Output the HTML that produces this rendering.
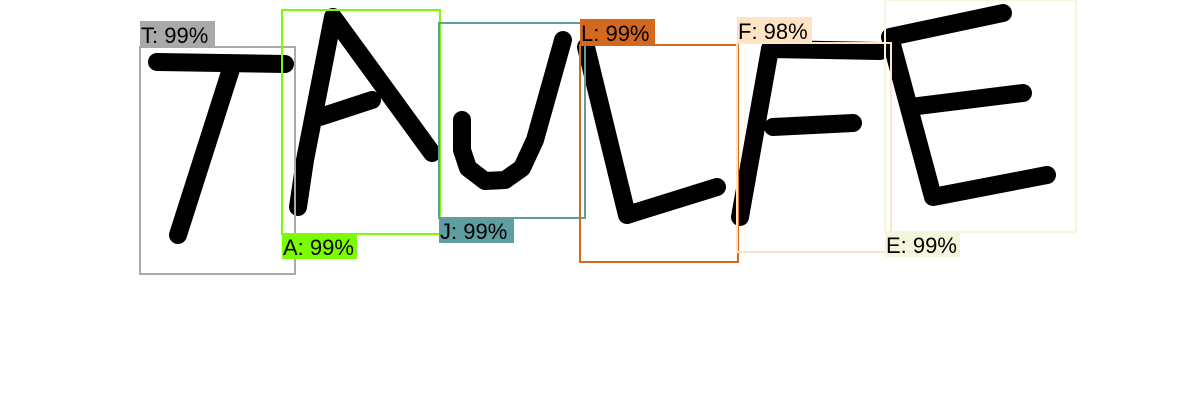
<!DOCTYPE html>
<html><head><meta charset="utf-8"><style>
html,body{margin:0;padding:0;background:#fff;}
svg{display:block;}
text{font-family:"Liberation Sans",sans-serif;font-size:22px;fill:#000;}
</style></head><body>
<svg id="chart" width="1200" height="420">
<g id="letters"></g><g id="boxes"></g>
</svg>
<script>
const labels = ["T","A","J","L","F","E"];
const scores = [99,99,99,99,98,99];
const boxX0 = [140,282,439,580,737,885];
const boxY0 = [47,10,23,45,43,0];
const boxX1 = [295,440,585,738,891,1076];
const boxY1 = [274,234,218,262,252,232];
const colors = ["#a9a9a9","#7cfc00","#5f9ea0","#d2691e","#ffe4c4","#f5f5dc"];
const labelBelow = [false,true,true,false,false,true];
const strokes = [
 [[[157,62],[285,64]],[[232,66],[178,235]]],
 [[[298,207],[305,160],[333,17],[432,153]],[[320,117],[372,100]]],
 [[[563,40],[535,140],[522,168],[505,180],[485,181],[468,168],[462,150],[462,120]]],
 [[[586,47],[627,215],[717,187]]],
 [[[770,49],[740,217]],[[770,49],[880,51]],[[773,127],[853,123]]],
 [[[1003,13],[890,37],[933,197],[1047,175]],[[910,107],[1023,93]]]
];
const NS="http://www.w3.org/2000/svg";
const lg=document.getElementById('letters'), bg=document.getElementById('boxes');
strokes.forEach((letter,i)=>{
  letter.forEach(s=>{
    const p=document.createElementNS(NS,'polyline');
    
    
    p.setAttribute('points',s.map(q=>q.join(',')).join(' '));
    p.setAttribute('fill','none');p.setAttribute('stroke','#000');
    p.setAttribute('stroke-width','18');p.setAttribute('stroke-linecap','round');p.setAttribute('stroke-linejoin','round');
    lg.appendChild(p);
  });
});
labels.forEach((l,i)=>{
  const r=document.createElementNS(NS,'rect');
  
  
  r.setAttribute('x',boxX0[i]);r.setAttribute('y',boxY0[i]);
  r.setAttribute('width',boxX1[i]-boxX0[i]);r.setAttribute('height',boxY1[i]-boxY0[i]);
  r.setAttribute('fill','none');r.setAttribute('stroke',colors[i]);r.setAttribute('stroke-width','2');
  bg.appendChild(r);
  const txt=l+': '+scores[i]+'%';
  const ly = labelBelow[i] ? boxY1[i]-1 : boxY0[i]-26;
  const lb=document.createElementNS(NS,'rect');
  
  
  lb.setAttribute('x',boxX0[i]);lb.setAttribute('y',ly);
  lb.setAttribute('width',txt.length*12.5);lb.setAttribute('height',26);
  lb.setAttribute('fill',colors[i]);
  bg.appendChild(lb);
  const t=document.createElementNS(NS,'text');
  
  
  t.setAttribute('x',boxX0[i]+1);t.setAttribute('y',ly+22);
  t.textContent=txt;
  bg.appendChild(t);
});
</script>
</body></html>
